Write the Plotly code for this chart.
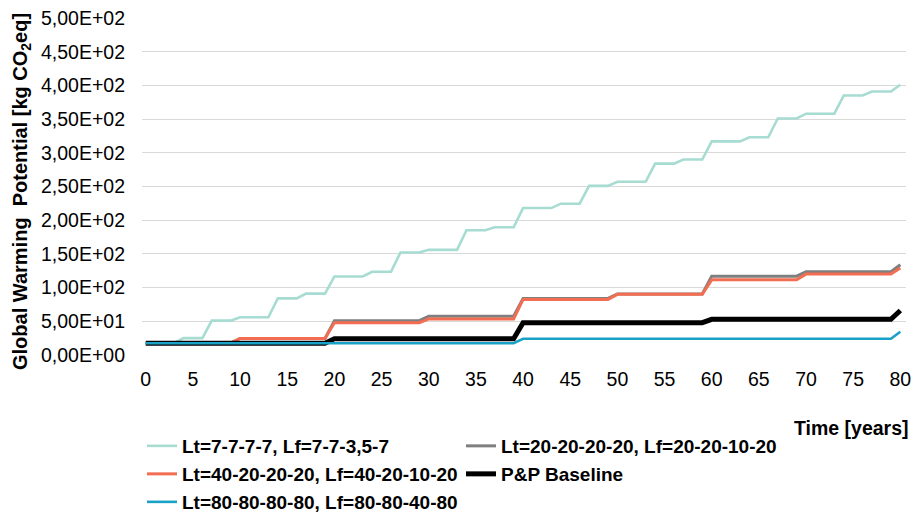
import plotly.graph_objects as go

years = list(range(0, 81))

names = [
    "Lt=7-7-7-7, Lf=7-7-3,5-7",
    "Lt=20-20-20-20, Lf=20-20-10-20",
    "Lt=40-20-20-20, Lf=40-20-10-20",
    "P&P Baseline",
    "Lt=80-80-80-80, Lf=80-80-40-80",
]

gwp_lt7 = [
    17.5, 17.5, 17.5, 17.5, 25, 25, 25, 51, 51, 51,
    56, 56, 56, 56, 84, 84, 84, 91, 91, 91,
    116.5, 116.5, 116.5, 116.5, 123.5, 123.5, 123.5, 152, 152, 152,
    156, 156, 156, 156, 185, 185, 185, 189.5, 189.5, 189.5,
    218, 218, 218, 218, 224.5, 224.5, 224.5, 251, 251, 251,
    257, 257, 257, 257, 284, 284, 284, 290, 290, 290,
    317, 317, 317, 317, 323, 323, 323, 351, 351, 351,
    358, 358, 358, 358, 385, 385, 385, 391, 391, 391,
    401,
]

gwp_lt20 = [
    17.5, 17.5, 17.5, 17.5, 17.5, 17.5, 17.5, 17.5, 17.5, 17.5,
    24.5, 24.5, 24.5, 24.5, 24.5, 24.5, 24.5, 24.5, 24.5, 24.5,
    51, 51, 51, 51, 51, 51, 51, 51, 51, 51,
    57.5, 57.5, 57.5, 57.5, 57.5, 57.5, 57.5, 57.5, 57.5, 57.5,
    84, 84, 84, 84, 84, 84, 84, 84, 84, 84,
    90.5, 90.5, 90.5, 90.5, 90.5, 90.5, 90.5, 90.5, 90.5, 90.5,
    117, 117, 117, 117, 117, 117, 117, 117, 117, 117,
    123.5, 123.5, 123.5, 123.5, 123.5, 123.5, 123.5, 123.5, 123.5, 123.5,
    134,
]

gwp_lt40 = [
    17.5, 17.5, 17.5, 17.5, 17.5, 17.5, 17.5, 17.5, 17.5, 17.5,
    24.5, 24.5, 24.5, 24.5, 24.5, 24.5, 24.5, 24.5, 24.5, 24.5,
    48, 48, 48, 48, 48, 48, 48, 48, 48, 48,
    53.5, 53.5, 53.5, 53.5, 53.5, 53.5, 53.5, 53.5, 53.5, 53.5,
    82.5, 82.5, 82.5, 82.5, 82.5, 82.5, 82.5, 82.5, 82.5, 82.5,
    90, 90, 90, 90, 90, 90, 90, 90, 90, 90,
    111.5, 111.5, 111.5, 111.5, 111.5, 111.5, 111.5, 111.5, 111.5, 111.5,
    120, 120, 120, 120, 120, 120, 120, 120, 120, 120,
    129,
]

gwp_baseline = [
    17.5, 17.5, 17.5, 17.5, 17.5, 17.5, 17.5, 17.5, 17.5, 17.5,
    17.5, 17.5, 17.5, 17.5, 17.5, 17.5, 17.5, 17.5, 17.5, 17.5,
    24, 24, 24, 24, 24, 24, 24, 24, 24, 24,
    24, 24, 24, 24, 24, 24, 24, 24, 24, 24,
    48, 48, 48, 48, 48, 48, 48, 48, 48, 48,
    48, 48, 48, 48, 48, 48, 48, 48, 48, 48,
    53, 53, 53, 53, 53, 53, 53, 53, 53, 53,
    53, 53, 53, 53, 53, 53, 53, 53, 53, 53,
    66,
]

gwp_lt80 = [
    17.5, 17.5, 17.5, 17.5, 17.5, 17.5, 17.5, 17.5, 17.5, 17.5,
    17.5, 17.5, 17.5, 17.5, 17.5, 17.5, 17.5, 17.5, 17.5, 17.5,
    17.5, 17.5, 17.5, 17.5, 17.5, 17.5, 17.5, 17.5, 17.5, 17.5,
    17.5, 17.5, 17.5, 17.5, 17.5, 17.5, 17.5, 17.5, 17.5, 17.5,
    24, 24, 24, 24, 24, 24, 24, 24, 24, 24,
    24, 24, 24, 24, 24, 24, 24, 24, 24, 24,
    24, 24, 24, 24, 24, 24, 24, 24, 24, 24,
    24, 24, 24, 24, 24, 24, 24, 24, 24, 24,
    34.5,
]

y_tick_vals = [0, 50, 100, 150, 200, 250, 300, 350, 400, 450, 500]
y_tick_text = ["0,00E+00", "5,00E+01", "1,00E+02", "1,50E+02", "2,00E+02",
               "2,50E+02", "3,00E+02", "3,50E+02", "4,00E+02", "4,50E+02", "5,00E+02"]
x_tick_vals = list(range(0, 81, 5))

series = [gwp_lt7, gwp_lt20, gwp_lt40, gwp_baseline, gwp_lt80]
colors = ["#a6dcd1", "#7f7f7f", "#f26d52", "#000000", "#1aa2c6"]
widths = [2.6, 3, 3, 5, 2.6]
legend_ids = ["legend", "legend2", "legend3", "legend4", "legend5"]
# legend slot positions (px in the 916x513 canvas): column left edge, row centre
legend_pos = [(142, 446), (461, 446), (142, 474), (461, 474), (142, 502)]

FONT = "Arial, 'Liberation Sans', sans-serif"
W, H = 916, 513

fig = go.Figure()
for name, ys, c, w, lg in zip(names, series, colors, widths, legend_ids):
    fig.add_trace(go.Scatter(
        x=years, y=ys, mode="lines", name=name,
        line=dict(color=c, width=w), legend=lg,
    ))

legend_common = dict(
    orientation="h", xanchor="left", yanchor="middle",
    xref="container", yref="container",
    font=dict(family=FONT, size=19, color="#000000", weight="bold"),
    bgcolor="rgba(0,0,0,0)", itemwidth=30,
    tracegroupgap=0, itemclick=False, itemdoubleclick=False,
)
legend_layout = {}
for lg, (px, py) in zip(legend_ids, legend_pos):
    legend_layout[lg] = dict(**legend_common, x=px / W, y=1 - py / H)

fig.update_layout(
    width=W, height=H,
    margin=dict(l=142, r=10, t=18, b=158, autoexpand=False),
    paper_bgcolor="white", plot_bgcolor="white",
    font=dict(family=FONT, size=19.5, color="#000000"),
    showlegend=True,
    **legend_layout,
    xaxis=dict(
        range=[-0.4, 80.6], tickmode="array", tickvals=x_tick_vals,
        showgrid=False, zeroline=False, showline=False, ticks="",
        tickfont=dict(family=FONT, size=19.5, color="#000000"),
        ticklabelstandoff=10, ticklabeloverflow="allow", automargin=False,
    ),
    yaxis=dict(
        range=[0, 500], tickmode="array", tickvals=y_tick_vals, ticktext=y_tick_text,
        showgrid=True, gridcolor="#d9d9d9", gridwidth=1,
        zeroline=False, showline=False, ticks="",
        tickfont=dict(family=FONT, size=19.5, color="#000000"),
        ticklabelstandoff=16, automargin=False,
    ),
    annotations=[
        dict(
            text="<b>Time [years]</b>", xref="paper", yref="paper",
            x=1.006, y=-0.217, xanchor="right", yanchor="middle", showarrow=False,
            font=dict(family=FONT, size=19.5, color="#000000"),
        ),
        dict(
            text="<b>Global Warming  Potential [kg CO<sub>2</sub>eq]</b>",
            xref="paper", yref="paper", textangle=-90,
            x=(21 - 142) / 764, y=(355 - 192) / 337,
            xanchor="center", yanchor="middle", showarrow=False,
            font=dict(family=FONT, size=20, color="#000000"),
        ),
    ],
)

fig.write_html(
    "out.html",
    config={"displayModeBar": False},
    post_script="document.body.style.margin='0';document.body.style.overflow='hidden';",
)
